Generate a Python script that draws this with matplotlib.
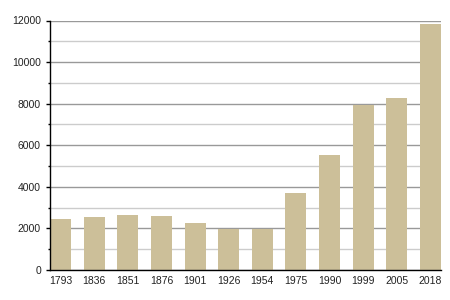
import matplotlib
matplotlib.use("Agg")
import matplotlib.pyplot as plt
from matplotlib.ticker import MultipleLocator
import numpy as np

years = ["1793", "1836", "1851", "1876", "1901", "1926",
         "1954", "1975", "1990", "1999", "2005", "2018"]
population = [2440, 2540, 2640, 2590, 2255, 1980,
              1975, 3680, 5520, 7920, 8255, 11820]

plt.rcParams['font.family'] = ['Liberation Sans', 'DejaVu Sans']

fig = plt.figure(figsize=(4.5, 3), dpi=100)
ax = fig.add_axes([50 / 450, 30 / 300, 391 / 450, 249.5 / 300])

w = 0.625
x = np.arange(len(years))
ax.bar(x, population, width=w, color='#ccbf99', zorder=3)

ax.set_xlim(-w / 2, len(years) - 1 + w / 2)
ax.set_ylim(0, 12000)

ax.yaxis.set_major_locator(MultipleLocator(2000))
ax.yaxis.set_minor_locator(MultipleLocator(1000))
ax.grid(which='major', axis='y', color='#999999', linewidth=1, zorder=1)
ax.grid(which='minor', axis='y', color='#cccccc', linewidth=1, zorder=1)

ax.set_xticks(x)
ax.set_xticklabels(years)

ax.tick_params(axis='y', which='major', length=3, width=1, pad=3.5,
               labelsize=7.5, color='black', labelcolor='#222222')
ax.tick_params(axis='y', which='minor', length=1.5, width=1, color='black')
ax.tick_params(axis='x', length=0, pad=4, labelsize=7.5, labelcolor='#222222')

for s in ['top', 'right']:
    ax.spines[s].set_visible(False)
for s in ['left', 'bottom']:
    ax.spines[s].set_color('black')
    ax.spines[s].set_linewidth(1)
    ax.spines[s].set_zorder(4)

fig.savefig("out.png", dpi=100)
